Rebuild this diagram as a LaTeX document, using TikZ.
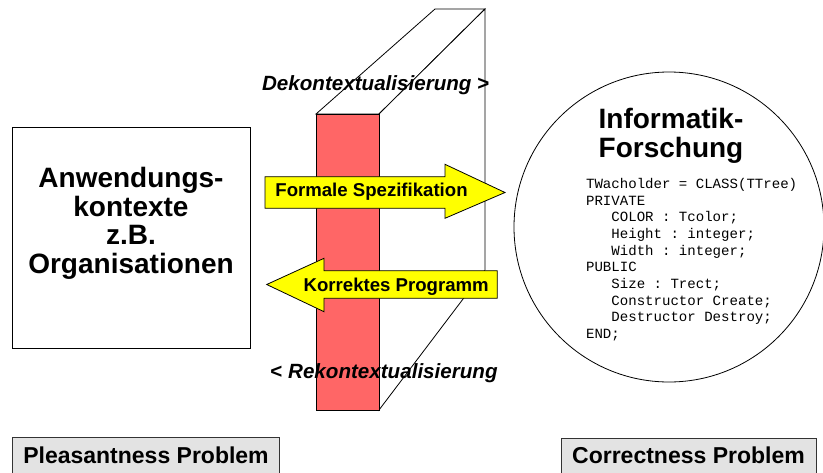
\documentclass[tikz,border=0pt]{standalone}
\usepackage{fontspec}
\setmainfont{Liberation Sans}
\setmonofont{Liberation Mono}
\usetikzlibrary{positioning}
\definecolor{slabred}{HTML}{FF6666}
\definecolor{arrowyellow}{HTML}{FFFF00}
\definecolor{labelgray}{HTML}{E3E3E3}
\newcommand{\ind}{\phantom{xxx}}
\begin{document}
\begin{tikzpicture}[x=1pt, y=-1pt, line width=0.8pt,
    bigtext/.style={font=\fontsize{28}{28.7}\selectfont\bfseries, align=center, inner sep=0pt, anchor=base},
    arrowtext/.style={font=\fontsize{18.6}{20}\selectfont\bfseries, inner sep=0pt, anchor=base west},
    sidetext/.style={font=\fontsize{20.6}{22}\selectfont\bfseries, inner sep=0pt, anchor=base west},
    problem/.style={draw=black!80, fill=labelgray, font=\fontsize{23}{25}\selectfont\bfseries,
      inner xsep=0pt, inner ysep=0pt, text depth=20pt, anchor=base},
    bigarrow/.style={draw, fill=arrowyellow}]
  \useasboundingbox (0, 0) rectangle (823, 472);
  % slab
  \draw [fill=white] (316, 114) -- (379, 114) -- (485, 9) -- (435, 9) -- cycle;
  \draw [fill=white] (379, 114) -- (485, 9) -- (485, 270) -- (379, 410) -- cycle;
  \draw [fill=slabred] (316, 114) rectangle (379, 410);
  \node [sidetext] (dekon) at (261.7, 90) {\textit{Dekontextualisierung} >};
  \node [sidetext] (rekon) at (270, 378) {< \textit{Rekontextualisierung}};
  % application context (base = last line)
  \node [draw, minimum width=238, minimum height=220.5] (contextbox) at (131.4, 237.8) {};
  \node [bigtext] (contexttext) at (131, 273.5) {Anwendungs-\\kontexte\\z.B.\\Organisationen};
  % research
  \node [draw, circle, fill=white, minimum size=310] (research) at (669, 227) {};
  \node [bigtext] (researchtitle) at (671, 157.3) {Informatik-\\Forschung};
  \node [font=\fontsize{14.07}{16.7}\selectfont\ttfamily, align=left, inner sep=0pt,
    anchor=base west] (code) at (585.7, 338.6) {TWacholder = CLASS(TTree)\\PRIVATE\\
    \ind COLOR : Tcolor;\\\ind Height : integer;\\\ind Width : integer;\\PUBLIC\\
    \ind Size : Trect;\\\ind Constructor Create;\\\ind Destructor Destroy;\\END;};
  % arrows
  \draw [bigarrow] (265, 176.7) -- (445, 176.7) -- (445, 164.3) -- (505, 192.5)
    -- (445, 218.3) -- (445, 208.3) -- (265, 208.3) -- cycle;
  \node [arrowtext] (spec) at (275, 196.7) {Formale Spezifikation};
  \draw [bigarrow] (497.3, 270.7) -- (324, 270.7) -- (324, 258.3) -- (266.7, 284.5)
    -- (324, 311.7) -- (324, 298.3) -- (497.3, 298.3) -- cycle;
  \node [arrowtext] (prog) at (303.3, 291.7) {Korrektes Programm};
  % problems
  \node [problem, minimum width=266.3, text height=26pt] (pleasant) at (146, 463) {Pleasantness Problem};
  \node [problem, minimum width=255, text height=25pt] (correct) at (688.5, 463) {Correctness Problem};
\end{tikzpicture}
\end{document}
